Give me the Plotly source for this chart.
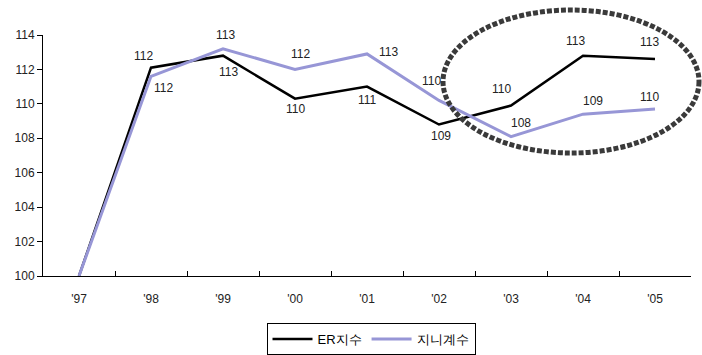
import plotly.graph_objects as go

# Annual index values, 1997 = 100
years = ["'97", "'98", "'99", "'00", "'01", "'02", "'03", "'04", "'05"]
er_index = [100.0, 112.1, 112.8, 110.3, 111.0, 108.8, 109.9, 112.8, 112.6]
gini_index = [100.0, 111.6, 113.2, 112.0, 112.9, 110.2, 108.1, 109.4, 109.7]

er_name = "ER지수"
gini_name = "지니계수"

# pixel offsets of each value label from its point (None = no label)
er_label_shift = [None, (-8, 12), (5, -16), (0, -10), (0, -13),
                  (2, -11), (-10, 17), (-8, 15), (-6, 17)]
gini_label_shift = [None, (12, -12), (2, 14), (5, 15), (21, 2),
                    (-8, 19), (10, 14), (10, 13), (-6, 12)]

W, H = 702, 355
ml, mr, mt, mb = 43, 11, 35, 79
FONT = "Liberation Sans, Arial, sans-serif"

fig = go.Figure()
fig.add_trace(go.Scatter(
    x=years, y=er_index, name=er_name, mode="lines",
    line=dict(color="#000000", width=2.5),
))
fig.add_trace(go.Scatter(
    x=years, y=gini_index, name=gini_name, mode="lines",
    line=dict(color="#9796d6", width=3),
))

# value labels
for vals, shifts in ((er_index, er_label_shift), (gini_index, gini_label_shift)):
    for x, v, s in zip(years, vals, shifts):
        if s is None:
            continue
        fig.add_annotation(x=x, y=v, text=f"{v:.0f}", showarrow=False,
                           xshift=s[0], yshift=s[1],
                           font=dict(family=FONT, size=12, color="#222"))


# dotted ellipse around the recent years
def px_x(p):
    return (p - ml) / (W - ml - mr)


def px_y(p):
    return 1 - (p - mt) / (H - mt - mb)


fig.add_shape(type="circle", xref="paper", yref="paper",
              x0=px_x(443), x1=px_x(699), y0=px_y(153), y1=px_y(10),
              line=dict(color="#3a3a3a", width=5, dash="5px,2px"))

fig.update_layout(
    width=W, height=H,
    margin=dict(l=ml, r=mr, t=mt, b=mb),
    paper_bgcolor="white", plot_bgcolor="white",
    font=dict(family=FONT, size=12, color="#222"),
    showlegend=True,
    legend=dict(orientation="h", xref="container", x=371 / W, xanchor="center",
                yref="container", y=1 - 323 / H, yanchor="top",
                bordercolor="#000", borderwidth=1,
                font=dict(family=FONT, size=13, color="#000"),
                itemwidth=40, tracegroupgap=0),
    xaxis=dict(type="category", range=[-0.5, len(years) - 0.5],
               showline=True, linecolor="#000", linewidth=1,
               ticks="inside", ticklen=5, tickcolor="#000", tickson="boundaries",
               showgrid=False, zeroline=False, tickfont=dict(size=12),
               ticklabelstandoff=12),
    yaxis=dict(range=[100, 114], dtick=2, showline=True, linecolor="#000", linewidth=1,
               ticks="outside", ticklen=5, tickcolor="#000", showgrid=False,
               zeroline=False, tickfont=dict(size=12)),
)

fig.write_html("out.html")
